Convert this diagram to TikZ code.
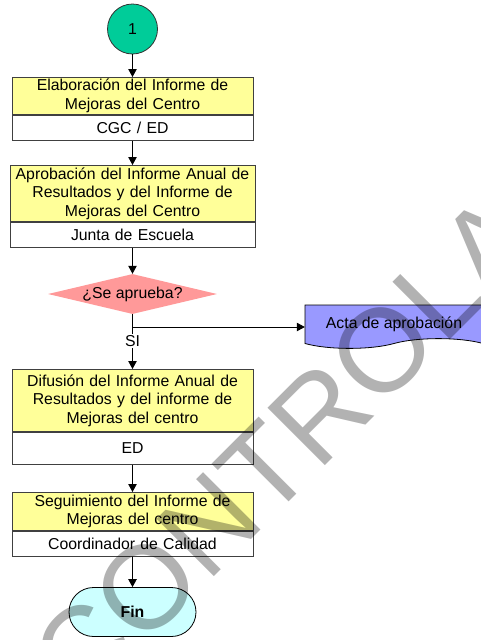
\documentclass[tikz,border=0pt]{standalone}
\usepackage{fontspec}
\setmainfont{Liberation Sans}
\usetikzlibrary{arrows.meta, shapes.geometric, shapes.misc, positioning}

\definecolor{verdeconector}{HTML}{00CC99}
\definecolor{amarillotarea}{HTML}{FFFF99}
\definecolor{rosadecision}{HTML}{FF9999}
\definecolor{azuldocumento}{HTML}{9999FF}
\definecolor{celesteterminal}{HTML}{CCFFFF}

\begin{document}
\begin{tikzpicture}[x=1pt, y=-1pt,
        every node/.style={font=\fontsize{15.8}{18.5}\selectfont},
        flecha/.style={-{Triangle[length=8pt, width=8.5pt]}, line width=0.8pt},
        linea/.style={line width=0.8pt}
    ]

    % Define custom styles for the flowchart shapes
    \tikzset{
        conector/.style={circle, draw=black!80, fill=verdeconector, line width=0.8pt, minimum size=50pt, inner sep=0pt},
        tarea/.style={draw=black!75, fill=amarillotarea, line width=0.8pt, text width=#1, align=center, inner sep=0pt, anchor=north},
        tarea/.default=241pt,
        responsable/.style={draw=black!75, fill=white, line width=0.8pt, text width=#1, align=center, inner sep=0pt},
        responsable/.default=241pt,
        decision/.style={diamond, fill=rosadecision, minimum width=169pt, minimum height=40pt, inner sep=0pt, shape aspect=4.2},
        documento/.style={draw=black, fill=azuldocumento, line width=0.8pt},
        terminal/.style={rounded rectangle, draw=black, fill=celesteterminal, line width=0.8pt, minimum width=127pt, minimum height=49pt, inner sep=0pt},
        marca/.style={rotate=45, text=black, text opacity=0.3, inner sep=0pt, font=\fontsize{118}{118}\selectfont}
    }

    \useasboundingbox (0,0) rectangle (481,640);

    % Start connector
    \node[conector] (C1) at (132.5, 29) {1};

    % First task
    \node[tarea, minimum height=37pt] (E1) at (132.5, 77) {Elaboración del Informe de\\Mejoras del Centro};
    \node[responsable, minimum height=25pt, below=0pt of E1] (R1) {CGC / ED};

    % Second task
    \node[tarea=245pt, minimum height=56pt] (E2) at (132.5, 165) {Aprobación del Informe Anual de\\Resultados y del Informe de\\Mejoras del Centro};
    \node[responsable=245pt, minimum height=25pt, below=0pt of E2] (R2) {Junta de Escuela};

    % Decision and document
    \node[decision] (D1) at (132.5, 294) {¿Se aprueba?};
    \node[fill=white, inner sep=1pt] (si) at (132.5, 341) {SI};
    \coordinate (J1) at (132.5, 327);

    \path[documento] (305, 305) -- (483, 305) -- (483, 343.5)
        .. controls (460, 337) and (417, 337) .. (394, 343.5)
        .. controls (371, 350) and (328, 350) .. (305, 343.5) -- cycle;
    \node[minimum width=178pt, minimum height=44pt, inner sep=0pt, text height=12pt, text depth=10pt] (acta) at (394, 327) {Acta de aprobación};

    % Third task
    \node[tarea, minimum height=62pt] (E3) at (132.5, 369) {Difusión del Informe Anual de\\Resultados y del informe de\\Mejoras del centro};
    \node[responsable, minimum height=32pt, below=0pt of E3] (R3) {ED};

    % Fourth task
    \node[tarea, minimum height=38pt] (E4) at (132.5, 492) {Seguimiento del Informe de\\Mejoras del centro};
    \node[responsable, minimum height=25pt, below=0pt of E4] (R4) {Coordinador de Calidad};

    % End
    \node[terminal] (fin) at (132.5, 612) {\textbf{Fin}};

    % Edges between nodes
    \draw[flecha] (C1) -- (E1);
    \draw[flecha] (R1) -- (E2);
    \draw[flecha] (R2) -- (D1);
    \draw[linea] (D1) -- (si);
    \draw[flecha] (J1) -- (acta.west);
    \draw[flecha] (si) -- (E3);
    \draw[flecha] (R3) -- (E4);
    \draw[flecha] (R4) -- (fin);

    % Watermark
    \node[marca] (marca) at (343, 390) {CONTROLADA};

\end{tikzpicture}
\end{document}
